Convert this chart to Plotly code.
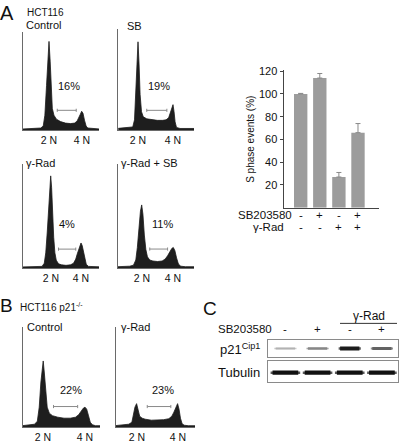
import plotly.graph_objects as go

W, H = 400, 443
FONT = "Liberation Sans, Arial, Helvetica, sans-serif"
INK = "#111111"

# ---------------- data ----------------
# Flow-cytometry DNA histograms: x = DNA content channel (2N = 20, 4N = 40), y = events (% of panel height)
A_CTRL_X = [4, 10, 15, 16.5, 17.5, 18.5, 19.3, 20, 20.7, 21.3, 22, 23, 24.5, 27, 30, 33, 35.5, 37, 38, 39, 39.8, 40.6, 41.5, 42.5, 43.5, 46, 51]
A_CTRL_Y = [1, 1.5, 2, 4, 15, 45, 75, 90, 70, 40, 22, 15, 11, 8.5, 7, 6.5, 7, 9, 12, 16, 19, 17, 10, 4, 2, 1.5, 1]

A_SB_X = [8, 13, 17, 18, 18.8, 19.4, 20, 20.6, 21.2, 22, 23, 25, 28, 31, 34, 36, 37.5, 38.5, 39.3, 40, 40.6, 41.2, 42, 44, 48, 53]
A_SB_Y = [1.5, 2, 3, 10, 40, 70, 87, 65, 35, 18, 13, 11, 10, 9.5, 9.5, 10, 12, 17, 23, 25, 18, 8, 2.5, 1.5, 1.5, 1.5]

A_RAD_X = [1, 6, 11, 14, 15.5, 16.5, 17.5, 18.5, 19.3, 19.8, 20.4, 21, 21.8, 22.6, 23.5, 25, 27, 30, 33, 35, 36.5, 37.5, 38.5, 39.3, 40, 40.8, 41.6, 42.5, 43.5, 45, 48, 53]
A_RAD_Y = [1.5, 1.5, 1.5, 2, 5, 15, 35, 62, 82, 89, 78, 55, 30, 15, 8, 4.5, 3.5, 3, 3.5, 5, 9, 14, 19, 23, 24.5, 22, 16, 9, 4, 2, 1.5, 1.5]

A_RADSB_X = [4, 8, 12, 14.5, 16, 17, 18, 19, 19.8, 20.6, 21.5, 22.5, 23.5, 25, 27, 30, 33, 35, 36.5, 38, 39.2, 40.2, 41.2, 42.3, 43.5, 45, 48, 54]
A_RADSB_Y = [1.5, 1.5, 2, 3, 8, 20, 40, 55, 61, 52, 32, 18, 11, 8, 7, 6.5, 7, 9, 12, 16, 19, 20, 17, 10, 4, 2, 1.5, 1.5]

B_CTRL_X = [10, 13, 16, 17.3, 18.2, 19, 19.6, 20.1, 20.6, 21.2, 22, 23, 24.5, 27, 30, 33, 35.5, 37, 38.2, 39.2, 40, 40.8, 41.6, 42.5, 43.5, 45, 48]
B_CTRL_Y = [1.5, 2, 3, 6, 20, 45, 60, 66, 55, 35, 20, 14, 11.5, 10, 9, 9, 10, 12.5, 16, 19, 20, 18, 12, 5, 2.5, 1.5, 1.5]

B_RAD_X = [9, 13, 16, 17.5, 18.3, 19, 19.8, 20.5, 21.3, 22.5, 24, 27, 30, 33, 35.5, 37, 38, 39, 39.8, 40.5, 41.2, 42, 43, 45, 49]
B_RAD_Y = [1.5, 2, 3, 5, 12, 20, 23.5, 17, 11, 9, 8, 7, 7, 7.5, 8.5, 11, 15, 21, 23.5, 18, 9, 3.5, 2, 1.5, 1.5]

HIST_TITLES = ["Control", "SB", "γ-Rad", "γ-Rad + SB", "Control", "γ-Rad"]
S_PHASE_PCT = ["16%", "19%", "4%", "11%", "22%", "23%"]
S_GATE = [25, 36.5]
PLOIDY_TICKS = [20, 40]
PLOIDY_LABELS = ["2 N", "4 N"]

# Bar chart: S phase events (%)
BAR_CATS = [0, 1, 2, 3]
S_PHASE_EVENTS = [100, 114, 27, 66]
S_PHASE_ERR = [0.5, 4, 4, 8]
SB_ROW = ["-", "+", "-", "+"]
RAD_ROW = ["-", "-", "+", "+"]
BAR_TICKS = [20, 40, 60, 80, 100, 120]

# Western blot (relative band intensities)
LANES = [0, 1, 2, 3]
BLOT_SB = ["-", "+", "-", "+"]
P21_LEVEL = [0.25, 0.45, 0.95, 0.62]
TUB_LEVEL = [1.0, 1.0, 1.0, 1.0]


# ---------------- helpers ----------------
def fx(px):
    return px / W


def fy(py):
    return 1 - py / H


fig = go.Figure()


def label(text, cx, cy, size, anchor="center", angle=0, xref="paper", color=INK):
    fig.add_annotation(
        x=cx if xref != "paper" else fx(cx), y=fy(cy), xref=xref, yref="paper",
        text=text, showarrow=False, textangle=angle,
        font=dict(size=size, family=FONT, color=color),
        xanchor=anchor, yanchor="middle", borderpad=0,
    )


layout_axes = {}

# ---------------- histograms ----------------
hist_panels = [
    dict(x=A_CTRL_X, y=A_CTRL_Y, dom=(22.7, 99, 27, 127), peaks=(49, 82), tpos=(24.5, 20), ppos=(69, 82.5), gy=20),
    dict(x=A_SB_X, y=A_SB_Y, dom=(118.3, 194, 24, 127), peaks=(138, 173), tpos=(126, 21.5), ppos=(158.5, 82.5), gy=19.4),
    dict(x=A_RAD_X, y=A_RAD_Y, dom=(22.7, 99, 162, 267.7), peaks=(51, 81), tpos=(24.5, 161), ppos=(66.5, 223), gy=18.6),
    dict(x=A_RADSB_X, y=A_RADSB_Y, dom=(118, 194, 162, 267.5), peaks=(142, 173), tpos=(119.5, 161), ppos=(162, 223), gy=18.5),
    dict(x=B_CTRL_X, y=B_CTRL_Y, dom=(22.7, 100, 327, 429), peaks=(43, 85), tpos=(26, 327.5), ppos=(70.5, 391), gy=20.6),
    dict(x=B_RAD_X, y=B_RAD_Y, dom=(115.7, 195, 327, 429), peaks=(137, 178), tpos=(119.5, 327.5), ppos=(162.5, 391), gy=20.6),
]

for i, p in enumerate(hist_panels):
    n = i + 1
    xs = "x" if n == 1 else f"x{n}"
    ys = "y" if n == 1 else f"y{n}"
    xk = "xaxis" if n == 1 else f"xaxis{n}"
    yk = "yaxis" if n == 1 else f"yaxis{n}"
    l, r, t, b = p["dom"]
    p2, p4 = p["peaks"]
    s = (p4 - p2) / (PLOIDY_TICKS[1] - PLOIDY_TICKS[0])
    rlo = PLOIDY_TICKS[0] - (p2 - l) / s
    rhi = PLOIDY_TICKS[1] + (r - p4) / s
    fig.add_trace(go.Scatter(
        x=p["x"], y=p["y"], xaxis=xs, yaxis=ys, mode="lines",
        line=dict(color="#1c1c1c", width=0.8), fill="tozeroy", fillcolor="#1e1e1e",
        hoverinfo="skip", showlegend=False,
    ))
    layout_axes[xk] = dict(
        domain=[fx(l), fx(r)], range=[rlo, rhi], anchor=ys,
        showline=True, linecolor="#6a6a6a", linewidth=1, showgrid=False, zeroline=False,
        ticks="", tickvals=PLOIDY_TICKS, ticktext=PLOIDY_LABELS,
        tickfont=dict(size=10.5, family=FONT, color=INK),
    )
    layout_axes[yk] = dict(
        domain=[fy(b), fy(t)], range=[0, 100], anchor=xs,
        showline=True, linecolor="#6a6a6a", linewidth=1, showgrid=False, zeroline=False,
        showticklabels=False, ticks="",
    )
    # S-phase gate bracket
    ph = b - t
    d = 1.6 / ph * 100
    gy = p["gy"]
    for (x0, y0, x1, y1) in [(S_GATE[0], gy, S_GATE[1], gy),
                             (S_GATE[0], gy - d, S_GATE[0], gy + d),
                             (S_GATE[1], gy - d, S_GATE[1], gy + d)]:
        fig.add_shape(type="line", xref=xs, yref=ys, x0=x0, y0=y0, x1=x1, y1=y1,
                      line=dict(color="#8a8a8a", width=1))
    label(HIST_TITLES[i], p["tpos"][0], p["tpos"][1], 11, anchor="left")
    label(S_PHASE_PCT[i], p["ppos"][0], p["ppos"][1], 11)

# ---------------- bar chart ----------------
fig.add_trace(go.Bar(
    x=BAR_CATS, y=S_PHASE_EVENTS, xaxis="x7", yaxis="y7", width=0.7,
    marker=dict(color="#9c9c9c", line=dict(width=0)),
    error_y=dict(type="data", array=S_PHASE_ERR, arrayminus=[0] * len(S_PHASE_ERR),
                 symmetric=False, color="#8a8a8a", thickness=1, width=2.5),
    hoverinfo="skip", showlegend=False,
))
layout_axes["xaxis7"] = dict(
    domain=[fx(283.5), fx(379)], range=[-0.9, 4.1], anchor="y7",
    showline=True, linecolor="#444444", linewidth=1, showgrid=False, zeroline=False,
    showticklabels=False, ticks="",
)
layout_axes["yaxis7"] = dict(
    domain=[fy(206), fy(66)], range=[0, 121.1], anchor="x7",
    showline=True, linecolor="#444444", linewidth=1, showgrid=False, zeroline=False,
    tickvals=BAR_TICKS, ticks="outside", ticklen=3, tickcolor="#444444",
    tickfont=dict(size=11, family=FONT, color=INK),
)
label("S phase events (%)", 251, 136, 10, angle=-90)
label("SB203580", 292.5, 213, 11.5, anchor="right")
label("γ-Rad", 285, 225.5, 11.5, anchor="right")
for c, sb, rd in zip(BAR_CATS, SB_ROW, RAD_ROW):
    label(sb, c, 213, 11.5, xref="x7")
    label(rd, c, 225.5, 11.5, xref="x7")

# ---------------- western blot ----------------
for k, (name, y0, y1) in enumerate([("p21", 340, 358), ("tub", 362, 383)]):
    n = 8 + k
    layout_axes[f"xaxis{n}"] = dict(
        domain=[fx(267.7), fx(398)], range=[-0.55, 3.5], anchor=f"y{n}",
        showline=True, mirror=True, linecolor="#8a8a8a", linewidth=1,
        showgrid=False, zeroline=False, showticklabels=False, ticks="",
    )
    layout_axes[f"yaxis{n}"] = dict(
        domain=[fy(y1), fy(y0)], range=[0, 1], anchor=f"x{n}",
        showline=True, mirror=True, linecolor="#8a8a8a", linewidth=1,
        showgrid=False, zeroline=False, showticklabels=False, ticks="",
    )


def band(lane, level, axis_n, yc, half, thick):
    g = int(round(232 - 215 * level))
    col = f"rgb({g},{g},{g})"
    g2 = int(round(240 - 150 * level))
    halo = f"rgb({g2},{g2},{g2})"
    fig.add_trace(go.Scatter(x=[lane - half * 1.15, lane + half * 1.15], y=[yc, yc],
                             xaxis=f"x{axis_n}", yaxis=f"y{axis_n}", mode="lines",
                             line=dict(color=halo, width=thick * 0.6), hoverinfo="skip", showlegend=False))
    fig.add_trace(go.Scatter(x=[lane - half, lane + half], y=[yc, yc],
                             xaxis=f"x{axis_n}", yaxis=f"y{axis_n}", mode="lines",
                             line=dict(color=col, width=thick), hoverinfo="skip", showlegend=False))


for ln, lv in zip(LANES, P21_LEVEL):
    band(ln, lv, 8, 0.5, 0.3, 1.5 + 2.6 * lv)
for ln, lv in zip(LANES, TUB_LEVEL):
    band(ln, lv, 9, 0.45, 0.4, 4.2)

label("p21<sup>Cip1</sup>", 261, 349.5, 13, anchor="right")
label("Tubulin", 261, 373.5, 13, anchor="right")
label("SB203580", 272.5, 329.5, 11.5, anchor="right")
for ln, sb in zip(LANES, BLOT_SB):
    label(sb, ln, 329.5, 11.5, xref="x8")
label("γ-Rad", 368.5, 316, 12)
fig.add_shape(type="line", xref="paper", yref="paper", x0=fx(340), x1=fx(397), y0=fy(323.5), y1=fy(323.5),
              line=dict(color="#333333", width=1))

# ---------------- panel letters / headers ----------------
label("A", 6.5, 8, 20)
label("HCT116", 26, 7.5, 10, anchor="left")
label("B", 6, 305, 19)
label("HCT116 p21<sup>-/-</sup>", 19, 306.5, 10, anchor="left")
label("C", 210, 308.5, 19)

fig.update_layout(
    width=W, height=H, margin=dict(l=0, r=0, t=0, b=0),
    paper_bgcolor="white", plot_bgcolor="white",
    font=dict(family=FONT, color=INK), showlegend=False,
    **layout_axes,
)

fig.write_html("out.html", config={"displayModeBar": False, "staticPlot": True},
               post_script="document.body.style.margin='0px';")
